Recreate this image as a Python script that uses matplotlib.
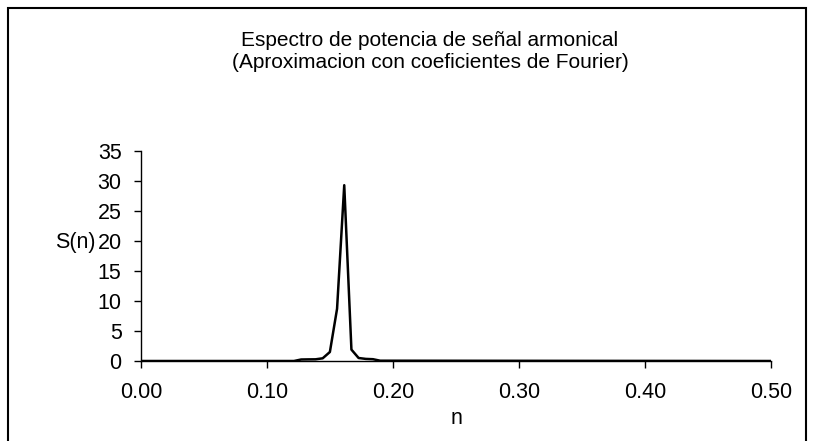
import matplotlib.pyplot as plt
from matplotlib.patches import Rectangle

plt.rcParams['font.family'] = ['Liberation Sans', 'DejaVu Sans']

# power spectrum (flat zero outside this range)
n_vals = [0.0, 0.1214, 0.1271, 0.1328, 0.1385, 0.1442, 0.1499, 0.1556,
          0.1613, 0.1670, 0.1727, 0.1784, 0.1841, 0.1898, 0.5]
s_vals = [0.0, 0.0, 0.25, 0.27, 0.28, 0.45, 1.5, 8.7,
          29.3, 1.9, 0.5, 0.35, 0.3, 0.05, 0.0]

x_ticks = [0.0, 0.1, 0.2, 0.3, 0.4, 0.5]
y_ticks = [0, 5, 10, 15, 20, 25, 30, 35]

W, H = 815, 441
fig = plt.figure(figsize=(W / 100, H / 100), dpi=100)

# outer chart frame
fig.patches.append(Rectangle((8 / W, -0.1), (806 - 8) / W, 1.1 - 8 / H,
                             transform=fig.transFigure, fill=False,
                             edgecolor='black', linewidth=1.5))

ax = fig.add_axes([141 / W, 1 - 361 / H, (771 - 141) / W, (361 - 151) / H])
ax.plot(n_vals, s_vals, color='black', linewidth=1.8)

ax.set_xlim(0, 0.5)
ax.set_ylim(0, 35)
ax.set_xticks(x_ticks)
ax.set_xticklabels(['%.2f' % v for v in x_ticks])
ax.set_yticks(y_ticks)
for side in ['top', 'right']:
    ax.spines[side].set_visible(False)
for side in ['left', 'bottom']:
    ax.spines[side].set_color('black')
    ax.spines[side].set_linewidth(1.0)
ax.tick_params(direction='out', length=5, width=1, labelsize=15.5)
ax.tick_params(axis='y', pad=9)
ax.tick_params(axis='x', pad=10)

fig.text(430 / W, 1 - 51 / H,
         'Espectro de potencia de señal armonical\n(Aproximacion con coeficientes de Fourier)',
         ha='center', va='center', fontsize=15, linespacing=1.2)
fig.text(75 / W, 1 - 243 / H, 'S(n)', ha='center', va='center', fontsize=15.5)
fig.text(456 / W, 1 - 419 / H, 'n', ha='center', va='center', fontsize=15.5)

fig.savefig('out.png', dpi=100)
